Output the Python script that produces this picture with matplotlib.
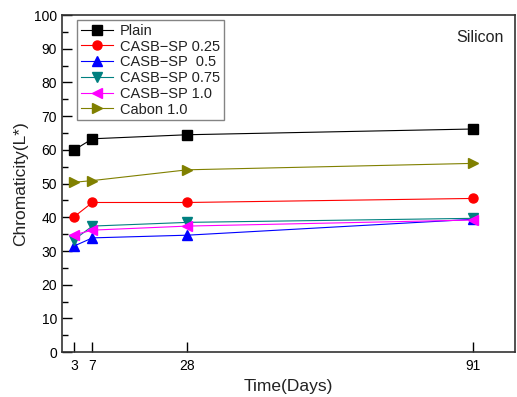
import matplotlib
matplotlib.use("Agg")
import matplotlib.pyplot as plt
from matplotlib.ticker import MultipleLocator

plt.rcParams['font.family'] = ['Liberation Sans', 'DejaVu Sans']

days = [3, 7, 28, 91]
plain = [60.0, 63.3, 64.5, 66.2]
sp025 = [40.2, 44.4, 44.4, 45.6]
sp05 = [31.5, 33.9, 34.7, 39.4]
sp075 = [33.4, 37.4, 38.5, 39.7]
sp10 = [34.8, 36.2, 37.4, 39.2]
cabon = [50.4, 50.9, 54.1, 56.0]

series = [
    ("Plain", plain, "black", "s"),
    ("CASB\u2212SP 0.25", sp025, "red", "o"),
    ("CASB\u2212SP  0.5", sp05, "blue", "^"),
    ("CASB\u2212SP 0.75", sp075, "#008080", "v"),
    ("CASB\u2212SP 1.0", sp10, "magenta", "<"),
    ("Cabon 1.0", cabon, "#808000", ">"),
]

fig = plt.figure(figsize=(5.17, 3.97), dpi=100)
ax = fig.add_axes([0.120, 0.113, 0.876, 0.849])

for label, vals, color, marker in series:
    ax.plot(days, vals, color=color, marker=marker, markersize=6.5,
            linewidth=0.8, label=label)

ax.set_xlim(0.3, 100.3)
ax.set_ylim(0, 100)
ax.set_xticks(days)
ax.yaxis.set_major_locator(MultipleLocator(10))
ax.yaxis.set_minor_locator(MultipleLocator(5))
ax.tick_params(axis='both', which='major', direction='in', length=7,
               width=1, labelsize=10, top=False, right=False)
ax.tick_params(axis='x', pad=5)
ax.tick_params(axis='y', which='minor', direction='in', length=4, width=1,
               right=False)
for s in ax.spines.values():
    s.set_linewidth(1.2)
    s.set_color('#333333')

ax.set_xlabel("Time(Days)", fontsize=12.5, color='#222222')
ax.set_ylabel("Chromaticity(L*)", fontsize=12.5, color='#222222')

ax.text(0.975, 0.955, "Silicon", transform=ax.transAxes, ha='right',
        va='top', fontsize=11.5, color='#222222')

leg = ax.legend(loc='upper left', bbox_to_anchor=(0.033, 0.985), fontsize=10.5,
                frameon=True, fancybox=False, borderpad=0.25,
                labelspacing=0.12, handlelength=2.2, handletextpad=0.5,
                borderaxespad=0.0)
leg.get_frame().set_edgecolor('#666666')
leg.get_frame().set_linewidth(1.0)
for t in leg.get_texts():
    t.set_color('#222222')

fig.savefig("out.png", dpi=100)
